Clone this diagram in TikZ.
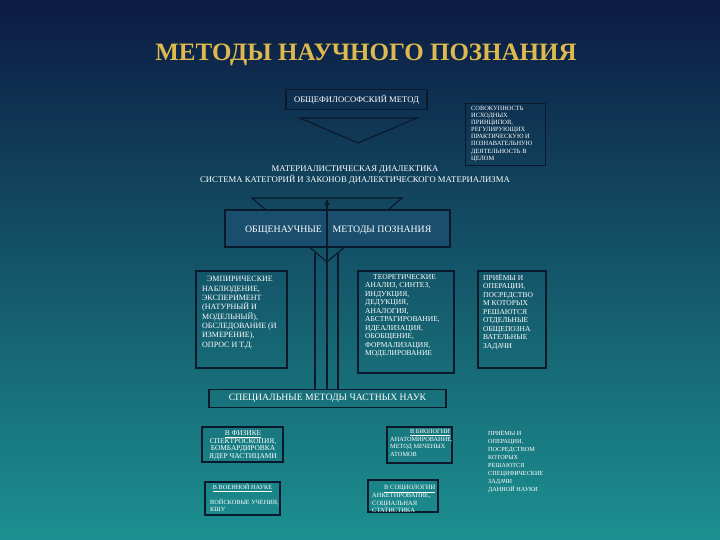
\documentclass[tikz,border=0pt]{standalone}
\usepackage{fontspec}
\setmainfont{Liberation Serif}
\usetikzlibrary{arrows.meta}
\definecolor{bgtop}{HTML}{0C1B42}
\definecolor{bgmid}{HTML}{1A5878}
\definecolor{bgbot}{HTML}{1C9090}
\definecolor{gold}{HTML}{DDB94E}
\definecolor{darkline}{HTML}{0A1A2C}
\definecolor{boxB}{HTML}{1A4E6E}
\begin{document}
\begin{tikzpicture}[x=1pt,y=-1pt,
  box/.style={draw=darkline, line width=1.6pt, inner sep=0pt},
  txt/.style={text=white, inner sep=0pt},
  tsmall/.style={txt, font=\fontsize{6.3}{7.5}\selectfont},
  tmid/.style={txt, font=\fontsize{8}{9.3}\selectfont},
  conn/.style={draw=darkline, line width=1.2pt},
  tri/.style={draw=darkline, line width=1.2pt}
]
\shade[top color=bgtop, middle color=bgmid, bottom color=bgbot] (0,0) rectangle (720,540);
\useasboundingbox (0,0) rectangle (720,540);

% title
\node[text=gold, font=\fontsize{25}{28}\selectfont\bfseries, inner sep=0pt] (title) at (366,55) {МЕТОДЫ НАУЧНОГО ПОЗНАНИЯ};

% top box
\node[box, minimum width=141pt, minimum height=20pt, txt, font=\fontsize{8.6}{9}\selectfont] (b1) at (356.5,99.5) {ОБЩЕФИЛОСОФСКИЙ МЕТОД};

% downward triangle under top box
\coordinate (t1a) at (300,118);
\coordinate (t1b) at (417,118);
\coordinate (t1c) at (358,143);
\draw[tri] (t1a) -- (t1b) -- (t1c) -- cycle;

% description box
\node[draw=darkline, line width=1.2pt, minimum width=80pt, minimum height=62pt, anchor=north west] (b2) at (465,103) {};
\node[tsmall, font=\fontsize{6.4}{7.1}\selectfont, align=left, anchor=north west] (b2t) at (471,106) {СОВОКУПНОСТЬ\\ИСХОДНЫХ\\ПРИНЦИПОВ,\\РЕГУЛИРУЮЩИХ\\ПРАКТИЧЕСКУЮ И\\ПОЗНАВАТЕЛЬНУЮ\\ДЕЯТЕЛЬНОСТЬ В\\ЦЕЛОМ};

% dialectics text
\node[txt, font=\fontsize{8.7}{11}\selectfont, align=center] (dia) at (355,175) {МАТЕРИАЛИСТИЧЕСКАЯ ДИАЛЕКТИКА\\СИСТЕМА КАТЕГОРИЙ И ЗАКОНОВ ДИАЛЕКТИЧЕСКОГО МАТЕРИАЛИЗМА};

% big triangle behind general box
\coordinate (t2a) at (252,198);
\coordinate (t2b) at (402,198);
\coordinate (t2c) at (327,262);
\draw[tri] (t2a) -- (t2b) -- (t2c) -- cycle;

% general methods box
\node[box, fill=boxB, minimum width=225pt, minimum height=37pt] (b3) at (337.5,228.5) {};
\node[txt, font=\fontsize{9.8}{10}\selectfont] (b3a) at (283.5,230) {ОБЩЕНАУЧНЫЕ};
\node[txt, font=\fontsize{9.8}{10}\selectfont] (b3b) at (382,230) {МЕТОДЫ ПОЗНАНИЯ};

% empirical
\node[box, minimum width=91pt, minimum height=97pt, anchor=north west] (b4) at (195,270) {};
\node[tmid, align=left, anchor=north west] (b4t) at (202,276.5) {\hspace{5pt}ЭМПИРИЧЕСКИЕ\\НАБЛЮДЕНИЕ,\\ЭКСПЕРИМЕНТ\\(НАТУРНЫЙ И\\МОДЕЛЬНЫЙ),\\ОБСЛЕДОВАНИЕ (И\\ИЗМЕРЕНИЕ),\\ОПРОС И Т.Д.};

% theoretical
\node[box, minimum width=96pt, minimum height=102pt, anchor=north west] (b5) at (357,270) {};
\node[tmid, font=\fontsize{7.5}{8.5}\selectfont, align=left, anchor=north west] (b5t) at (365,274) {\hspace{8pt}ТЕОРЕТИЧЕСКИЕ\\АНАЛИЗ, СИНТЕЗ,\\ИНДУКЦИЯ,\\ДЕДУКЦИЯ,\\АНАЛОГИЯ,\\АБСТРАГИРОВАНИЕ,\\ИДЕАЛИЗАЦИЯ,\\ОБОБЩЕНИЕ,\\ФОРМАЛИЗАЦИЯ,\\МОДЕЛИРОВАНИЕ};

% techniques
\node[box, minimum width=68pt, minimum height=97pt, anchor=north west] (b6) at (477,270) {};
\node[tmid, font=\fontsize{7.5}{8.5}\selectfont, align=left, anchor=north west] (b6t) at (483,274) {ПРИЁМЫ И\\ОПЕРАЦИИ,\\ПОСРЕДСТВО\\М КОТОРЫХ\\РЕШАЮТСЯ\\ОТДЕЛЬНЫЕ\\ОБЩЕПОЗНА\\ВАТЕЛЬНЫЕ\\ЗАДАЧИ};

% special methods
\node[box, minimum width=237pt, minimum height=18pt, txt, font=\fontsize{9.7}{10}\selectfont] (b7) at (327.5,398.5) {СПЕЦИАЛЬНЫЕ МЕТОДЫ ЧАСТНЫХ НАУК};

% connectors
\coordinate (arrtop) at (327,199);
\coordinate (l1) at (315,253);
\coordinate (l3) at (338,253);
\draw[conn] (l1) -- (l1 |- b7.north);
\draw[conn] (l3) -- (l3 |- b7.north);
\draw[conn, -{Triangle[length=6pt,width=5pt]}] (arrtop |- b7.north) -- (arrtop);

% physics
\node[box, minimum width=81pt, minimum height=35pt] (b8) at (242.5,444.5) {};
\node[tsmall, font=\fontsize{7.4}{7.6}\selectfont, align=center] (b8t) at (243,445.5) {\underline{В ФИЗИКЕ}\\СПЕКТРОСКОПИЯ,\\БОМБАРДИРОВКА\\ЯДЕР ЧАСТИЦАМИ};

% biology
\node[box, minimum width=65pt, minimum height=36pt] (b9) at (419.5,445) {};
\node[tsmall, align=left, anchor=north west] (b9t) at (390,429.5) {\hspace{20pt}\underline{В БИОЛОГИИ}\\АНАТОМИРОВАНИЕ,\\МЕТОД МЕЧЕНЫХ\\АТОМОВ};

% military
\node[box, minimum width=75pt, minimum height=33pt] (b10) at (242.5,498.5) {};
\node[tsmall, align=center] (b10h) at (242.5,488) {\underline{В ВОЕННОЙ НАУКЕ}};
\node[tsmall, align=left, anchor=north west] (b10t) at (210,498.5) {ВОЙСКОВЫЕ УЧЕНИЯ,\\КШУ};

% sociology
\node[box, minimum width=70pt, minimum height=32pt] (b11) at (403,496) {};
\node[tsmall, font=\fontsize{6.5}{7.5}\selectfont, align=left, anchor=north west] (b11t) at (372,484.5) {\hspace{12pt}\underline{В СОЦИОЛОГИИ}\\АНКЕТИРОВАНИЕ,\\СОЦИАЛЬНАЯ\\СТАТИСТИКА};

% specific techniques
\node[tsmall, font=\fontsize{6.2}{8}\selectfont, align=left, anchor=north west] (b12) at (488,430) {ПРИЁМЫ И\\ОПЕРАЦИИ,\\ПОСРЕДСТВОМ\\КОТОРЫХ\\РЕШАЮТСЯ\\СПЕЦИФИЧЕСКИЕ\\ЗАДАЧИ\\ДАННОЙ НАУКИ};
\end{tikzpicture}
\end{document}
